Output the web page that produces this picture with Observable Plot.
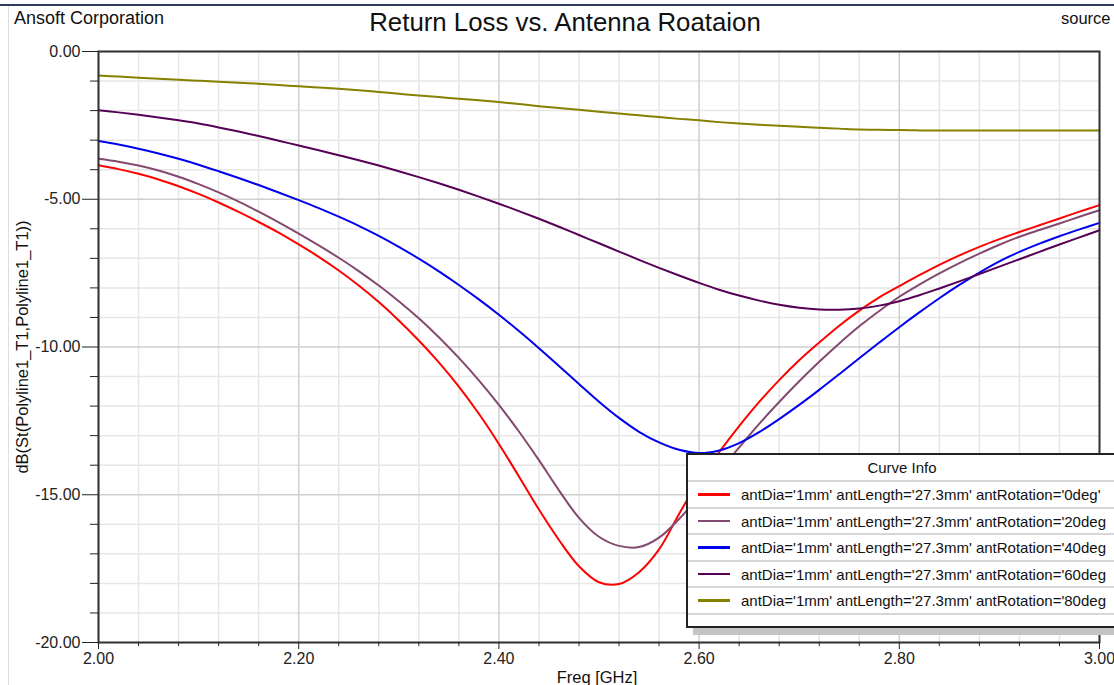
<!DOCTYPE html>
<html><head><meta charset="utf-8">
<script src="https://cdn.jsdelivr.net/npm/d3@7"></script>
<script src="https://cdn.jsdelivr.net/npm/@observablehq/plot@0.6"></script>
<style>
html,body{margin:0;padding:0;background:#fff;overflow:hidden;}
#wrap{position:relative;width:1114px;height:685px;overflow:hidden;font-family:"Liberation Sans",Arial,sans-serif;color:#111;background:#fff;}
.t{position:absolute;white-space:nowrap;}
#topline{position:absolute;left:0;top:4px;width:1114px;height:2px;background:#2f3b5c;}
#leftline{position:absolute;left:8px;top:6px;width:1px;height:679px;background:#dedede;}
#chart{position:absolute;left:0;top:40px;}
#legend{position:absolute;left:686px;top:453px;width:432px;height:175px;box-sizing:border-box;border:2px solid #222;background:#fff;box-shadow:7px 7px 0 #c4c4c4;}
.lhead{height:27px;box-sizing:border-box;border-bottom:2px solid #d6d6d6;text-align:center;font-size:15px;line-height:25px;color:#111;}
.lrow{height:26.6px;box-sizing:border-box;border-bottom:2px solid #d6d6d6;position:relative;font-size:15px;line-height:25px;color:#111;}
.lsw{position:absolute;left:10px;top:11px;width:32px;height:2.5px;}
.ltx{position:absolute;left:53px;top:0;white-space:nowrap;}
</style></head>
<body>
<div id="wrap">
  <div id="topline"></div>
  <div id="leftline"></div>
  <div class="t" style="left:14px;top:8px;font-size:18px;line-height:20px;">Ansoft Corporation</div>
  <div class="t" style="left:0;width:1130px;top:8px;text-align:center;font-size:25.8px;line-height:28px;">Return Loss vs. Antenna Roataion</div>
  <div class="t" style="left:1061px;top:8px;font-size:16.5px;line-height:20px;">source</div>
  <div id="chart"></div>
  <div class="t" id="ylab" style="left:22px;top:347px;font-size:16.5px;line-height:18px;transform:translate(-50%,-50%) rotate(-90deg);">dB(St(Polyline1_T1,Polyline1_T1))</div>
  <div class="t" style="left:597px;top:668px;font-size:16.5px;line-height:18px;transform:translateX(-50%);">Freq [GHz]</div>
  <div id="legend"></div>
</div>
<script>
// ---- data ----
const freq = [2.00,2.02,2.04,2.06,2.08,2.10,2.12,2.14,2.16,2.18,2.20,2.22,2.24,2.26,2.28,2.30,2.32,2.34,2.36,2.38,2.40,2.42,2.44,2.46,2.48,2.50,2.52,2.54,2.56,2.58,2.60,2.62,2.64,2.66,2.68,2.70,2.72,2.74,2.76,2.78,2.80,2.82,2.84,2.86,2.88,2.90,2.92,2.94,2.96,2.98,3.00];

const rot0 = [-3.85,-3.98,-4.14,-4.33,-4.56,-4.82,-5.11,-5.43,-5.77,-6.13,-6.53,-6.95,-7.41,-7.92,-8.48,-9.10,-9.78,-10.52,-11.34,-12.26,-13.28,-14.38,-15.50,-16.53,-17.42,-17.96,-18.02,-17.62,-16.85,-15.65,-14.50,-13.56,-12.68,-11.86,-11.12,-10.45,-9.85,-9.28,-8.77,-8.32,-7.94,-7.57,-7.22,-6.90,-6.61,-6.35,-6.11,-5.88,-5.65,-5.42,-5.20];

const rot20 = [-3.63,-3.73,-3.86,-4.03,-4.24,-4.49,-4.77,-5.08,-5.42,-5.78,-6.16,-6.56,-6.98,-7.43,-7.92,-8.45,-9.03,-9.67,-10.37,-11.13,-11.96,-12.86,-13.83,-14.85,-15.78,-16.42,-16.73,-16.77,-16.45,-15.82,-15.05,-14.23,-13.40,-12.60,-11.86,-11.16,-10.50,-9.88,-9.30,-8.78,-8.30,-7.89,-7.51,-7.16,-6.84,-6.54,-6.27,-6.04,-5.82,-5.59,-5.37];

const rot40 = [-3.03,-3.15,-3.29,-3.45,-3.63,-3.83,-4.05,-4.28,-4.52,-4.77,-5.03,-5.30,-5.59,-5.90,-6.24,-6.61,-7.01,-7.44,-7.90,-8.39,-8.91,-9.46,-10.04,-10.64,-11.25,-11.85,-12.40,-12.87,-13.23,-13.48,-13.59,-13.50,-13.25,-12.88,-12.44,-11.96,-11.45,-10.92,-10.38,-9.85,-9.33,-8.83,-8.35,-7.90,-7.48,-7.10,-6.78,-6.50,-6.25,-6.02,-5.80];

const rot60 = [-1.99,-2.06,-2.14,-2.23,-2.33,-2.44,-2.57,-2.71,-2.86,-3.02,-3.18,-3.34,-3.51,-3.68,-3.86,-4.05,-4.25,-4.46,-4.68,-4.91,-5.15,-5.40,-5.66,-5.93,-6.21,-6.49,-6.77,-7.05,-7.32,-7.58,-7.83,-8.06,-8.26,-8.43,-8.57,-8.67,-8.73,-8.74,-8.70,-8.60,-8.45,-8.25,-8.02,-7.78,-7.53,-7.28,-7.03,-6.78,-6.53,-6.29,-6.05];

const rot80 = [-0.81,-0.85,-0.89,-0.92,-0.96,-0.99,-1.02,-1.06,-1.09,-1.13,-1.18,-1.22,-1.26,-1.31,-1.37,-1.43,-1.49,-1.54,-1.60,-1.65,-1.71,-1.78,-1.85,-1.91,-1.97,-2.04,-2.10,-2.16,-2.22,-2.28,-2.33,-2.39,-2.44,-2.48,-2.51,-2.55,-2.58,-2.61,-2.64,-2.65,-2.66,-2.67,-2.67,-2.67,-2.67,-2.67,-2.67,-2.67,-2.67,-2.67,-2.67];

const seriesNames = [
  "antDia='1mm' antLength='27.3mm' antRotation='0deg'",
  "antDia='1mm' antLength='27.3mm' antRotation='20deg",
  "antDia='1mm' antLength='27.3mm' antRotation='40deg",
  "antDia='1mm' antLength='27.3mm' antRotation='60deg",
  "antDia='1mm' antLength='27.3mm' antRotation='80deg"
];
const seriesColors = ["#ff0000", "#83496f", "#0000f0", "#560056", "#858000"];

const xMajorTicks = [2.0, 2.2, 2.4, 2.6, 2.8, 3.0];
const xMinorTicks = [2.04,2.08,2.12,2.16,2.24,2.28,2.32,2.36,2.44,2.48,2.52,2.56,2.64,2.68,2.72,2.76,2.84,2.88,2.92,2.96];
const yMajorTicks = [0, -5, -10, -15, -20];
const yMinorTicks = [-1,-2,-3,-4,-6,-7,-8,-9,-11,-12,-13,-14,-16,-17,-18,-19];

// ---- build table ----
const allSeries = [rot0, rot20, rot40, rot60, rot80];
const rows = [];
allSeries.forEach((vals, k) => vals.forEach((v, j) => rows.push({f: freq[j], v, k})));

const chart = Plot.plot({
  width: 1114,
  height: 645,
  marginTop: 11,
  marginLeft: 98,
  marginRight: 15,
  marginBottom: 43,
  style: {fontFamily: "'Liberation Sans', Arial, sans-serif", fontSize: "16px", color: "#222", background: "transparent"},
  x: {domain: [2, 3]},
  y: {domain: [-20, 0]},
  marks: [
    Plot.gridX(xMinorTicks, {stroke: "#e6e6e6", strokeOpacity: 1, strokeWidth: 1.5}),
    Plot.gridY(yMinorTicks, {stroke: "#e6e6e6", strokeOpacity: 1, strokeWidth: 1.5}),
    Plot.gridX(xMajorTicks, {stroke: "#cfcfcf", strokeOpacity: 1, strokeWidth: 1.5}),
    Plot.gridY(yMajorTicks, {stroke: "#cfcfcf", strokeOpacity: 1, strokeWidth: 1.5}),
    Plot.line(rows, {x: "f", y: "v", z: "k", stroke: d => seriesColors[d.k], strokeWidth: 2, curve: "catmull-rom"}),
    Plot.frame({stroke: "#333", strokeWidth: 2}),
    Plot.axisX({ticks: xMinorTicks, tickSize: 4, tickFormat: () => "", label: null}),
    Plot.axisX({ticks: xMajorTicks, tickSize: 7, tickPadding: 3, tickFormat: d => d.toFixed(2), label: null, fontSize: 16}),
    Plot.axisY({ticks: yMinorTicks, tickSize: 8, tickFormat: () => "", label: null}),
    Plot.axisY({ticks: yMajorTicks, tickSize: 16, tickPadding: 2, tickFormat: d => d.toFixed(2), label: null, fontSize: 16})
  ]
});
document.getElementById("chart").appendChild(chart);

// ---- legend (Curve Info) ----
const legend = document.getElementById("legend");
const head = document.createElement("div");
head.className = "lhead";
head.textContent = "Curve Info";
legend.appendChild(head);
seriesNames.forEach((name, i) => {
  const r = document.createElement("div");
  r.className = "lrow";
  const sw = document.createElement("div");
  sw.className = "lsw";
  sw.style.background = seriesColors[i];
  const tx = document.createElement("div");
  tx.className = "ltx";
  tx.textContent = name;
  r.appendChild(sw);
  r.appendChild(tx);
  legend.appendChild(r);
});
</script>
</body></html>
